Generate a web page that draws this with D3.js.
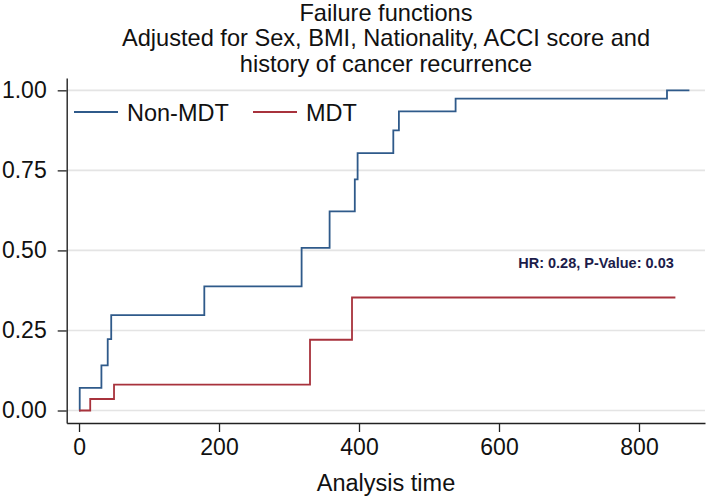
<!DOCTYPE html>
<html>
<head>
<meta charset="utf-8">
<script src="https://cdn.jsdelivr.net/npm/d3@7"></script>
<style>
  html, body { margin: 0; padding: 0; background: #fff; }
  svg { display: block; font-family: "Liberation Sans", Arial, Helvetica, sans-serif; }
</style>
</head>
<body>
<svg id="chart" width="709" height="500"></svg>
<script>
// ---- data ----
const titleLines = ["Failure functions", "Adjusted for Sex, BMI, Nationality, ACCI score and", "history of cancer recurrence"];
const seriesNames = ["Non-MDT", "MDT"];
const timesNonMDT = [0, 1, 32, 41, 46, 179, 318, 358, 394, 398, 449, 457, 538, 840, 872];
const failNonMDT  = [0, 0.071, 0.141, 0.223, 0.298, 0.388, 0.508, 0.622, 0.722, 0.804, 0.875, 0.934, 0.974, 1.0, 1.0];
const timesMDT = [0, 16, 50, 330, 390, 852];
const failMDT  = [0, 0.036, 0.081, 0.221, 0.353, 0.353];
const xTicks = [0, 200, 400, 600, 800];
const yTicks = [0, 0.25, 0.5, 0.75, 1.0];
const yTickLabels = ["0.00", "0.25", "0.50", "0.75", "1.00"];
const xAxisTitle = "Analysis time";
const annotation = "HR: 0.28, P-Value: 0.03";
const annotationPos = [596, 0.445];

const colors = ["#2f5a8a", "#a8323c"];

const svg = d3.select("#chart");

const x = d3.scaleLinear().domain([-17.6, 894.3]).range([66.7, 705]);
const y = d3.scaleLinear().domain([-0.039, 1.0385]).range([423, 78]);

// gridlines
svg.append("g").selectAll("line").data(yTicks).join("line")
  .attr("x1", 67).attr("x2", 705)
  .attr("y1", d => y(d)).attr("y2", d => y(d))
  .attr("stroke", "#e4e4e4").attr("stroke-width", 1.6);

// x axis
const xAxis = svg.append("g").attr("transform", `translate(0,${y.range()[0]})`)
  .call(d3.axisBottom(x).tickValues(xTicks).tickSize(9).tickSizeOuter(0).tickPadding(7).tickFormat(d3.format("d")));
xAxis.select(".domain").attr("stroke", "#222").attr("stroke-width", 1.4);
xAxis.selectAll(".tick line").attr("stroke", "#222").attr("stroke-width", 1.3);
xAxis.selectAll(".tick text").attr("font-size", 23).attr("fill", "#111").attr("font-family", "Liberation Sans, Arial, sans-serif");

// y axis
const yAxis = svg.append("g").attr("transform", `translate(${x.range()[0]},0)`)
  .call(d3.axisLeft(y).tickValues(yTicks).tickSize(9).tickSizeOuter(0).tickPadding(11)
    .tickFormat((d, i) => yTickLabels[i]));
yAxis.select(".domain").attr("stroke", "#222").attr("stroke-width", 1.4);
yAxis.selectAll(".tick text").attr("font-size", 23).attr("fill", "#111").attr("font-family", "Liberation Sans, Arial, sans-serif");
yAxis.selectAll(".tick line").attr("stroke", "#222").attr("stroke-width", 1.3);

// step lines
const line = d3.line().curve(d3.curveStepAfter).x(d => x(d[0])).y(d => y(d[1]));
const series = [
  { name: seriesNames[0], pts: timesNonMDT.map((t, i) => [t, failNonMDT[i]]), color: colors[0] },
  { name: seriesNames[1], pts: timesMDT.map((t, i) => [t, failMDT[i]]), color: colors[1] }
];
svg.append("g").selectAll("path").data(series).join("path")
  .attr("d", d => line(d.pts))
  .attr("fill", "none")
  .attr("stroke", d => d.color)
  .attr("stroke-width", 1.8);

// legend
const legendX = [74, 253];
const lg = svg.append("g").selectAll("g").data(series).join("g")
  .attr("transform", (d, i) => `translate(${legendX[i]},112)`);
lg.append("line").attr("x1", 0).attr("x2", 44).attr("y1", 0).attr("y2", 0)
  .attr("stroke", d => d.color).attr("stroke-width", 1.8);
lg.append("text").attr("x", 53).attr("y", 9).attr("font-size", 23.5).attr("fill", "#111")
  .text(d => d.name);

// annotation
svg.append("text").attr("x", annotationPos[0]).attr("y", y(annotationPos[1]))
  .attr("text-anchor", "middle").attr("font-size", 14.5).attr("font-weight", "bold")
  .attr("fill", "#1c1c4a").text(annotation);

// title
svg.append("g").selectAll("text").data(titleLines).join("text")
  .attr("x", 386).attr("y", (d, i) => 20.5 + i * 25.8)
  .attr("text-anchor", "middle").attr("font-size", 23.6).attr("fill", "#111")
  .text(d => d);

// x axis title
svg.append("text").attr("x", 386).attr("y", 491).attr("text-anchor", "middle")
  .attr("font-size", 23.5).attr("fill", "#111").text(xAxisTitle);
</script>
</body>
</html>
